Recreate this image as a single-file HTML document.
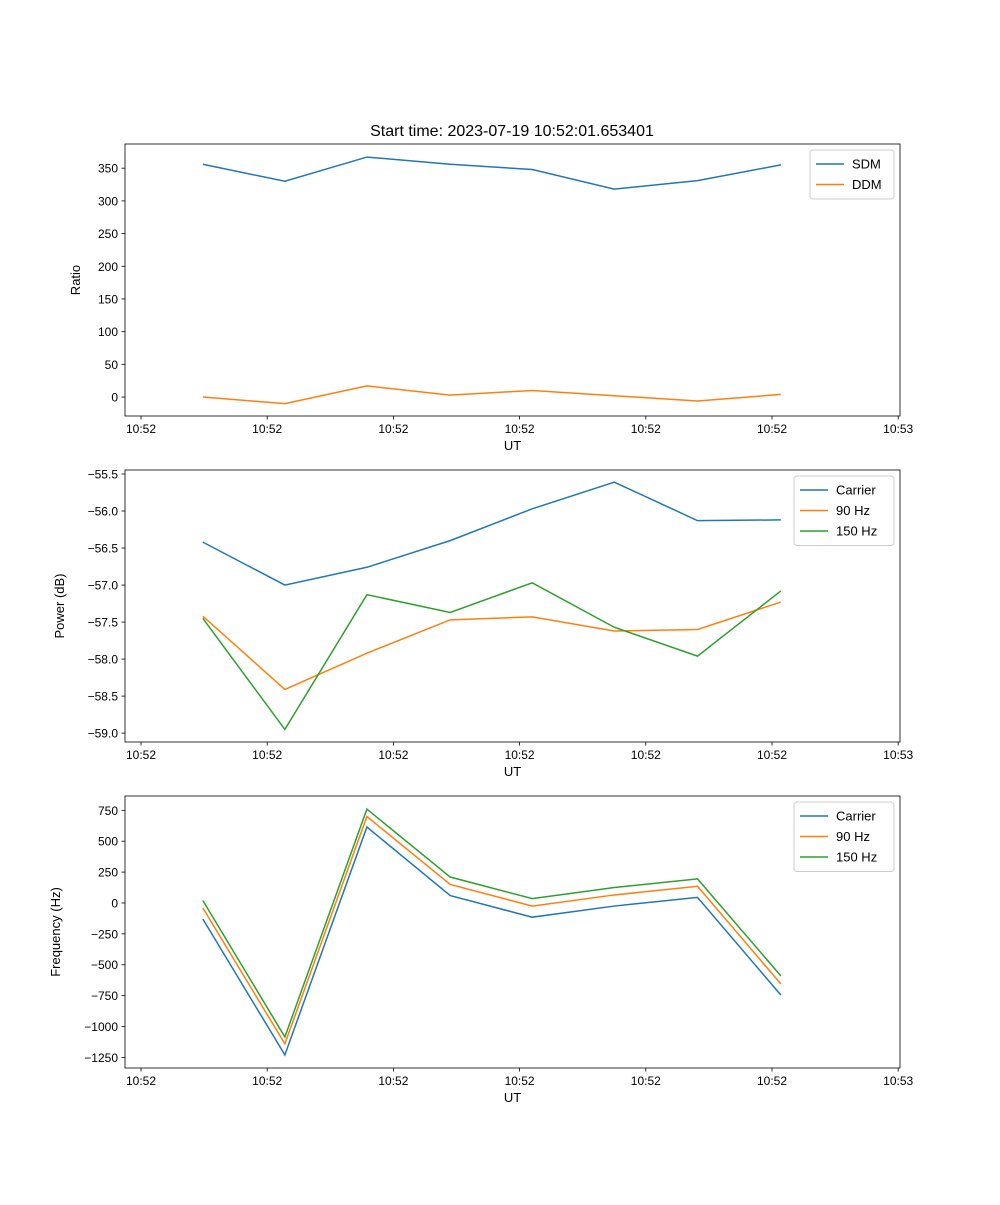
<!DOCTYPE html>
<html><head><meta charset="utf-8"><style>
body{margin:0;background:#fff;}
svg{font-family:"Liberation Sans","DejaVu Sans",sans-serif;}
</style></head><body>
<svg id="fig" width="1000" height="1200" xmlns="http://www.w3.org/2000/svg">
<rect width="1000" height="1200" fill="#fff"/>
<text x="512" y="136" font-size="16" text-anchor="middle">Start time: 2023-07-19 10:52:01.653401</text>
</svg>
<script>
const xTickLabels = ["10:52","10:52","10:52","10:52","10:52","10:52","10:53"];
const times = [0.49, 1.14, 1.79, 2.45, 3.10, 3.75, 4.41, 5.07];
const sdm = [356, 330, 367, 356, 348, 318, 331, 355];
const ddm = [0, -10, 17, 3, 10, 2, -6, 4];
const pwrCarrier = [-56.42, -57.0, -56.76, -56.4, -55.97, -55.61, -56.13, -56.12];
const pwr90 = [-57.42, -58.41, -57.92, -57.47, -57.43, -57.62, -57.60, -57.23];
const pwr150 = [-57.45, -58.95, -57.13, -57.37, -56.97, -57.57, -57.96, -57.08];
const frqCarrier = [-130, -1230, 615, 60, -115, -25, 45, -745];
const frq90 = [-40, -1140, 700, 150, -25, 65, 135, -655];
const frq150 = [20, -1085, 760, 210, 35, 125, 195, -590];
const ratioTicks = [0,50,100,150,200,250,300,350];
const powerTicks = [-59.0,-58.5,-58.0,-57.5,-57.0,-56.5,-56.0,-55.5];
const freqTicks = [-1250,-1000,-750,-500,-250,0,250,500,750];

const NS="http://www.w3.org/2000/svg";
const svg=document.getElementById('fig');
function mk(tag,attrs,parent){const e=document.createElementNS(NS,tag);for(const k in attrs)e.setAttribute(k,attrs[k]);(parent||svg).appendChild(e);return e;}
const C=["#1f77b4","#ff7f0e","#2ca02c"];
const L=125,R=900;
const xs=v=>L+16+v*126.2;

function panel(idx,top,bot,ymin,ymax,yt,fmt,ylabel,series,names,legW){
  const g=mk('g',{});
  
  
  const ys=v=>bot-(v-ymin)/(ymax-ymin)*(bot-top);
  series.forEach((s,i)=>{
    const pl=mk('polyline',{points:s.map((v,j)=>xs(times[j])+','+ys(v)).join(' '),fill:'none',stroke:C[i],'stroke-width':1.5},g);
    
    
  });
  const fr=mk('rect',{x:L,y:top,width:R-L,height:bot-top,fill:'none',stroke:'#000','stroke-width':0.8},g);
  
  
  xTickLabels.forEach((t,i)=>{
    const x=xs(i);
    mk('line',{x1:x,x2:x,y1:bot,y2:bot+3.5,stroke:'#000','stroke-width':0.8},g);
    const tx=mk('text',{x:x,y:bot+17,'font-size':12,'text-anchor':'middle'},g);tx.textContent=t;
    
    
  });
  const xl=mk('text',{x:(L+R)/2,y:bot+34,'font-size':13,'text-anchor':'middle'},g);xl.textContent='UT';
  
  
  yt.forEach(v=>{
    const y=ys(v);
    mk('line',{x1:L-3.5,x2:L,y1:y,y2:y,stroke:'#000','stroke-width':0.8},g);
    const tx=mk('text',{x:L-7,y:y+4.5,'font-size':12,'text-anchor':'end'},g);tx.textContent=fmt(v);
    
    
  });
  const ylx=idx===1?80:(idx===2?64:60);
  const yl=mk('text',{x:ylx,y:(top+bot)/2,'font-size':13,'text-anchor':'middle',transform:`rotate(-90 ${ylx} ${(top+bot)/2})`},g);yl.textContent=ylabel;
  
  
  const lh=names.length*20.5+8, lx=R-6-legW, ly=top+6;
  const lg=mk('g',{},g);
  
  
  mk('rect',{x:lx,y:ly,width:legW,height:lh,fill:'#fff',stroke:'#ccc',rx:3},lg);
  names.forEach((n,i)=>{
    const yy=ly+14+i*20.5;
    mk('line',{x1:lx+6,x2:lx+34,y1:yy,y2:yy,stroke:C[i],'stroke-width':1.5},lg);
    const t=mk('text',{x:lx+42,y:yy+4.5,'font-size':13},lg);t.textContent=n;
    
    
  });
}
panel(1,144,416,-29,387,ratioTicks,v=>String(v),'Ratio',[sdm,ddm],['SDM','DDM'],84);
panel(2,470,742,-59.12,-55.446,powerTicks,v=>'\u2212'.repeat(1)+Math.abs(v).toFixed(1),'Power (dB)',[pwrCarrier,pwr90,pwr150],['Carrier','90 Hz','150 Hz'],100);
panel(3,796,1068,-1336,866,freqTicks,v=>v<0?'\u2212'+Math.abs(v):String(v),'Frequency (Hz)',[frqCarrier,frq90,frq150],['Carrier','90 Hz','150 Hz'],100);
</script>
</body></html>
